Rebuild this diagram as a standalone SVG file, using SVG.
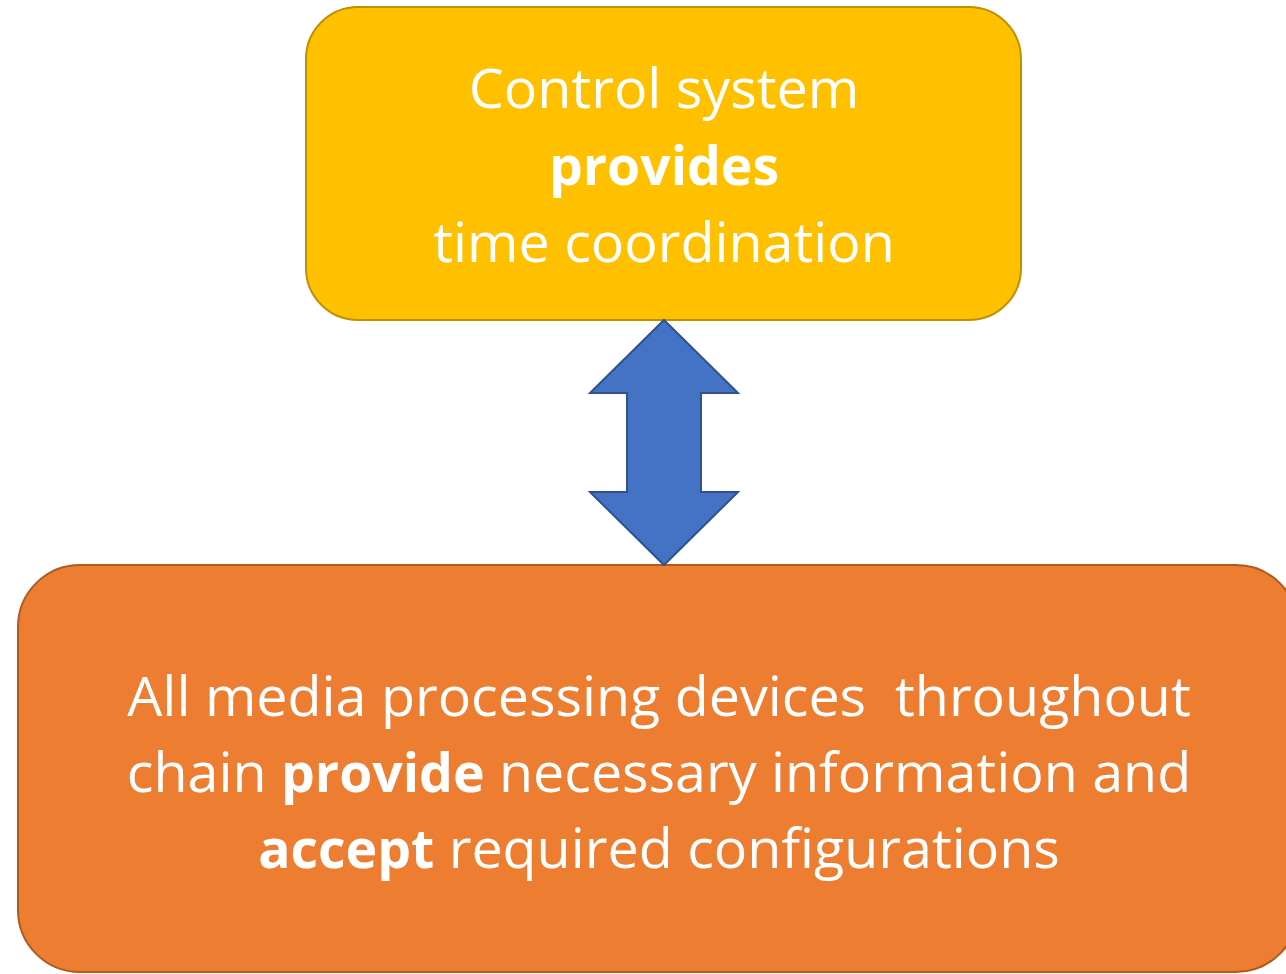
<svg xmlns="http://www.w3.org/2000/svg" width="1286" height="974" viewBox="0 0 1286 974">
  <style>
    .lbl { font-family: "Open Sans", "Noto Sans", "Liberation Sans", sans-serif; font-size: 55.6px; fill: #ffffff; text-anchor: middle; }
    .b { font-weight: bold; font-size: 53.5px; }
  </style>
  <rect width="1286" height="974" fill="#ffffff"/>
  <g id="control-system">
    <rect x="306" y="7" width="715" height="313" rx="52" ry="52" fill="#FFC000" stroke="#BF9000" stroke-width="2"/>
    <text class="lbl" x="664" y="108">Control system</text>
    <text class="lbl b" x="664" y="185">provides</text>
    <text class="lbl" x="664" y="262">time coordination</text>
  </g>
  <g id="media-devices">
    <rect x="18" y="565" width="1280" height="407" rx="62" ry="62" fill="#ED7D31" stroke="#AE5A21" stroke-width="2"/>
    <text class="lbl" x="659" y="716" xml:space="preserve">All media processing devices  throughout</text>
    <text class="lbl" x="659" y="792">chain <tspan class="b">provide</tspan> necessary information and</text>
    <text class="lbl" x="659" y="868"><tspan class="b">accept</tspan> required configurations</text>
  </g>
  <g id="connectors">
    <polygon points="664,320 738,393 701,393 701,492 738,492 664,565 590,492 627,492 627,393 590,393" fill="#4472C4" stroke="#2F528F" stroke-width="2" stroke-linejoin="miter"/>
  </g>
</svg>
